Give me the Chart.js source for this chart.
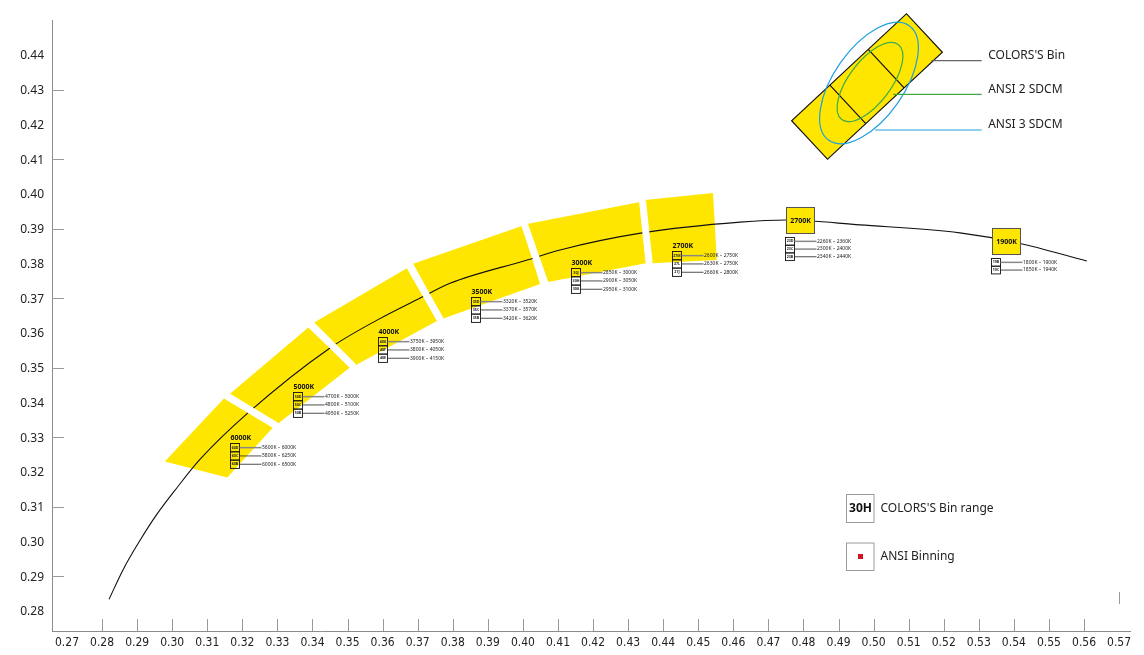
<!DOCTYPE html>
<html>
<head>
<meta charset="utf-8">
<script src="https://cdn.jsdelivr.net/npm/chart.js@4.4.1/dist/chart.umd.min.js"></script>
<style>
  html, body { margin: 0; padding: 0; background: #fff; }
  #wrap { width: 1144px; height: 655px; }
</style>
</head>
<body>
<div id="wrap"><canvas id="cie" width="1144" height="655"></canvas></div>
<script>
// axis tick labels
const xTickLabels = ['0.27','0.28','0.29','0.30','0.31','0.32','0.33','0.34','0.35','0.36','0.37','0.38','0.39','0.40','0.41','0.42',
                     '0.43','0.44','0.45','0.46','0.47','0.48','0.49','0.50','0.51','0.52','0.53','0.54','0.55','0.56','0.57'];
const yTickLabels = ['0.28','0.29','0.30','0.31','0.32','0.33','0.34','0.35','0.36','0.37','0.38','0.39','0.40','0.41','0.42','0.43','0.44'];

// black-body locus (x, y)
const locusX = [0.2820, 0.2861, 0.2908, 0.2956, 0.3013, 0.3079, 0.3216, 0.3450, 0.3584, 0.3716, 0.3792,
                0.4012, 0.4106, 0.4340, 0.4619, 0.4753, 0.4961, 0.5246, 0.5412, 0.5608];
const locusY = [0.2834, 0.2921, 0.3003, 0.3078, 0.3154, 0.3236, 0.3370, 0.3557, 0.3637, 0.3705, 0.3743,
                0.3810, 0.3839, 0.3888, 0.3919, 0.3925, 0.3911, 0.3888, 0.3859, 0.3807];

// yellow bin areas, four corners each
const bandX = [
  [0.2979, 0.3148, 0.3288, 0.3157],
  [0.3165, 0.3388, 0.3507, 0.3303],
  [0.3405, 0.3669, 0.3756, 0.3524],
  [0.3687, 0.3997, 0.4049, 0.3773],
  [0.4012, 0.4334, 0.4351, 0.4072],
  [0.4348, 0.4542, 0.4553, 0.4368]
];
const bandY = [
  [0.3230, 0.3412, 0.3329, 0.3184],
  [0.3425, 0.3616, 0.3501, 0.3340],
  [0.3630, 0.3786, 0.3635, 0.3508],
  [0.3799, 0.3908, 0.3741, 0.3642],
  [0.3914, 0.3977, 0.3801, 0.3747],
  [0.3983, 0.4003, 0.3810, 0.3801]
];

// white separations between the bins
const gapX = [[0.3156, 0.3295], [0.3397, 0.3516], [0.3678, 0.3764], [0.4005, 0.4062], [0.4341, 0.4360]];
const gapY = [[0.3418, 0.3334], [0.3623, 0.3504], [0.3792, 0.3639], [0.3911, 0.3745], [0.3980, 0.3801]];

// bin label groups
const binNames = ['6000K', '5000K', '4000K', '3500K', '3000K', '2700K', '2700K', '1900K'];
const binBoxed = [false, false, false, false, false, false, true, true];
const binX = [0.3165, 0.3344, 0.3588, 0.3852, 0.4137, 0.4424, 0.4747, 0.5334];
const binY = [0.3283, 0.3431, 0.3589, 0.3705, 0.3786, 0.3836, 0.3877, 0.3815];
const binCodes = [
  ['60D', '60C', '60B'],
  ['50D', '50C', '50B'],
  ['40G', '40F', '40E'],
  ['35D', '35C', '35B'],
  ['30J', '30H', '30G'],
  ['27M', '27L', '27J'],
  ['23D', '23C', '23B'],
  ['19B', '19C']
];
const binRanges = [
  ['5600K – 6000K', '5800K – 6250K', '6000K – 6500K'],
  ['4700K – 5000K', '4800K – 5100K', '4950K – 5250K'],
  ['3750K – 3950K', '3800K – 4050K', '3900K – 4150K'],
  ['3320K – 3520K', '3370K – 3570K', '3420K – 3620K'],
  ['2850K – 3000K', '2900K – 3050K', '2950K – 3100K'],
  ['2600K – 2750K', '2630K – 2750K', '2660K – 2800K'],
  ['2260K – 2360K', '2300K – 2400K', '2340K – 2440K'],
  ['1800K – 1900K', '1850K – 1940K']
];

const legendNames = ["COLORS'S Bin", 'ANSI 2 SDCM', 'ANSI 3 SDCM'];

const YELLOW = 'rgb(255,230,0)';
const BLUE = 'rgb(30,160,225)';
const GREEN = 'rgb(60,170,75)';
const SANS = "'Noto Sans', 'Open Sans', sans-serif";

const xTickValues = xTickLabels.map(Number);
const yTickValues = yTickLabels.map(Number);
const pts = (xs, ys) => xs.map((x, i) => ({ x: x, y: ys[i] }));

const datasets = [];
bandX.forEach((xs, i) => {
  datasets.push({
    data: pts(xs.concat([xs[0]]), bandY[i].concat([bandY[i][0]])),
    borderWidth: 0, borderColor: YELLOW, backgroundColor: YELLOW,
    fill: 'shape', pointRadius: 0, tension: 0, order: 10
  });
});
datasets.push({
  data: pts(locusX, locusY),
  borderColor: '#111', borderWidth: 1.1, fill: false, pointRadius: 0,
  cubicInterpolationMode: 'monotone', order: 5
});
gapX.forEach((xs, i) => {
  datasets.push({
    data: pts(xs, gapY[i]),
    borderColor: '#fff', borderWidth: 7, fill: false, pointRadius: 0, order: 1
  });
});

const overlay = {
  id: 'overlay',
  afterDatasetsDraw(chart) {
    const ctx = chart.ctx;
    const xs = chart.scales.x, ys = chart.scales.y;
    const area = chart.chartArea;
    ctx.save();

    // inner tick marks
    ctx.strokeStyle = '#9a9a9a';
    ctx.lineWidth = 1;
    ctx.beginPath();
    xTickValues.forEach(v => {
      if (v < 0.275 || v > 0.565) return;
      const p = Math.round(xs.getPixelForValue(v)) + 0.5;
      ctx.moveTo(p, area.bottom); ctx.lineTo(p, area.bottom - 12);
    });
    yTickValues.forEach((v, i) => {
      if (i % 2 === 0) return;
      const p = Math.round(ys.getPixelForValue(v)) + 0.5;
      ctx.moveTo(area.left, p); ctx.lineTo(area.left + 12, p);
    });
    const p57 = Math.round(xs.getPixelForValue(0.57)) + 0.5;
    ctx.moveTo(p57, ys.getPixelForValue(0.2855)); ctx.lineTo(p57, ys.getPixelForValue(0.2820));
    ctx.stroke();

    // bin label groups
    binNames.forEach((name, i) => {
      const px = Math.round(xs.getPixelForValue(binX[i])) + 0.5;
      const py = Math.round(ys.getPixelForValue(binY[i])) + 0.5;
      const rh = binBoxed[i] ? 7.7 : 8.3;
      ctx.textBaseline = 'middle';
      if (binBoxed[i]) {
        ctx.fillStyle = YELLOW;
        ctx.fillRect(px + 1, py - 30, 28, 26);
        ctx.strokeStyle = '#555';
        ctx.lineWidth = 1;
        ctx.strokeRect(px + 1, py - 30, 28, 26);
        ctx.fillStyle = '#111';
        ctx.font = 'bold 7px ' + SANS;
        ctx.textAlign = 'center';
        ctx.fillText(name, px + 15, py - 17);
      } else {
        ctx.fillStyle = '#111';
        ctx.font = 'bold 7px ' + SANS;
        ctx.textAlign = 'left';
        ctx.fillText(name, px, py - 5.5);
      }
      binCodes[i].forEach((code, r) => {
        const top = py + r * rh;
        const mid = top + rh / 2;
        ctx.strokeStyle = '#111';
        ctx.lineWidth = 0.9;
        ctx.strokeRect(px, top, 9, rh);
        ctx.fillStyle = '#222';
        ctx.font = 'bold 3.6px ' + SANS;
        ctx.textAlign = 'center';
        ctx.fillText(code, px + 4.5, mid);
        ctx.beginPath();
        ctx.strokeStyle = r === 0 ? '#888' : '#222';
        ctx.lineWidth = r === 0 ? 1.5 : 0.8;
        ctx.moveTo(px + 9, mid); ctx.lineTo(px + 31, mid);
        ctx.stroke();
        ctx.font = '5px ' + SANS;
        ctx.textAlign = 'left';
        ctx.fillText(binRanges[i][r], px + 31.5, mid);
      });
    });

    // schematic at top right
    const cx = area.right - 263, cy = area.top + 66.5;
    ctx.save();
    ctx.translate(cx, cy);
    ctx.rotate(-43 * Math.PI / 180);
    ctx.fillStyle = YELLOW;
    ctx.fillRect(-78.5, -26.3, 157, 52.6);
    ctx.strokeStyle = '#111';
    ctx.lineWidth = 1.2;
    ctx.strokeRect(-78.5, -26.3, 157, 52.6);
    ctx.beginPath();
    ctx.moveTo(-26.2, -26.3); ctx.lineTo(-26.2, 26.3);
    ctx.moveTo(26.2, -26.3); ctx.lineTo(26.2, 26.3);
    ctx.stroke();
    ctx.restore();
    ctx.lineWidth = 1.2;
    ctx.strokeStyle = GREEN;
    ctx.beginPath();
    ctx.ellipse(cx + 3, cy - 4.5, 47, 21, -53 * Math.PI / 180, 0, Math.PI * 2);
    ctx.stroke();
    ctx.strokeStyle = BLUE;
    ctx.beginPath();
    ctx.ellipse(cx + 2, cy - 3.5, 70, 35, -55 * Math.PI / 180, 0, Math.PI * 2);
    ctx.stroke();

    const lx = area.right - 148.3;
    const rows = [[cx + 64.5, 40.7, '#666'], [cx + 26, 74.3, GREEN], [cx + 8, 110, BLUE]];
    ctx.font = '12px ' + SANS;
    ctx.textAlign = 'left';
    rows.forEach((r, i) => {
      ctx.strokeStyle = r[2];
      ctx.lineWidth = 1.2;
      ctx.beginPath();
      ctx.moveTo(r[0], area.top + r[1]); ctx.lineTo(lx, area.top + r[1]);
      ctx.stroke();
      ctx.fillStyle = '#222';
      ctx.fillText(legendNames[i], lx + 6.5, area.top + r[1] - 5);
    });

    // bottom right key
    const kx = area.right - 283.5, ky = area.top + 474.5;
    ctx.strokeStyle = '#9a9a9a';
    ctx.lineWidth = 1;
    ctx.strokeRect(kx, ky, 27.5, 28);
    ctx.strokeRect(kx, ky + 48.5, 27.5, 27.5);
    ctx.fillStyle = '#111';
    ctx.font = 'bold 12px ' + SANS;
    ctx.textAlign = 'center';
    ctx.fillText('30H', kx + 14, ky + 14.5);
    ctx.fillStyle = '#d2141e';
    ctx.fillRect(kx + 11.5, ky + 59.5, 5, 5);
    ctx.fillStyle = '#222';
    ctx.font = '12px ' + SANS;
    ctx.textAlign = 'left';
    ctx.fillText("COLORS'S Bin range", kx + 34, ky + 14.5);
    ctx.fillText('ANSI Binning', kx + 34, ky + 62);

    ctx.restore();
  }
};

new Chart(document.getElementById('cie').getContext('2d'), {
  type: 'line',
  data: { datasets: datasets },
  options: {
    responsive: false,
    animation: false,
    layout: { padding: { top: 20, right: 14, left: 0, bottom: 0 } },
    plugins: { legend: { display: false }, tooltip: { enabled: false } },
    scales: {
      x: {
        type: 'linear', min: 0.26572, max: 0.57311,
        afterBuildTicks: s => { s.ticks = xTickValues.map(v => ({ value: v })); },
        afterFit: s => { s.height = 24; },
        grid: { display: true, drawOnChartArea: false, drawTicks: false },
        border: { display: true, color: '#8c8c8c', width: 1 },
        ticks: {
          autoSkip: false, maxRotation: 0, padding: 5, color: '#222',
          font: { family: "'Liberation Sans Narrow', 'DejaVu Sans Condensed', sans-serif", size: 12 },
          callback: (v, i) => xTickLabels[i]
        }
      },
      y: {
        type: 'linear', min: 0.27424, max: 0.45007,
        afterBuildTicks: s => { s.ticks = yTickValues.map(v => ({ value: v })); },
        afterFit: s => { s.width = 52; },
        grid: { display: true, drawOnChartArea: false, drawTicks: false },
        border: { display: true, color: '#8c8c8c', width: 1 },
        ticks: {
          autoSkip: false, padding: 8, color: '#222', labelOffset: 1,
          font: { family: SANS, size: 12 },
          callback: (v, i) => yTickLabels[i]
        }
      }
    }
  },
  plugins: [overlay]
});
</script>
</body>
</html>
